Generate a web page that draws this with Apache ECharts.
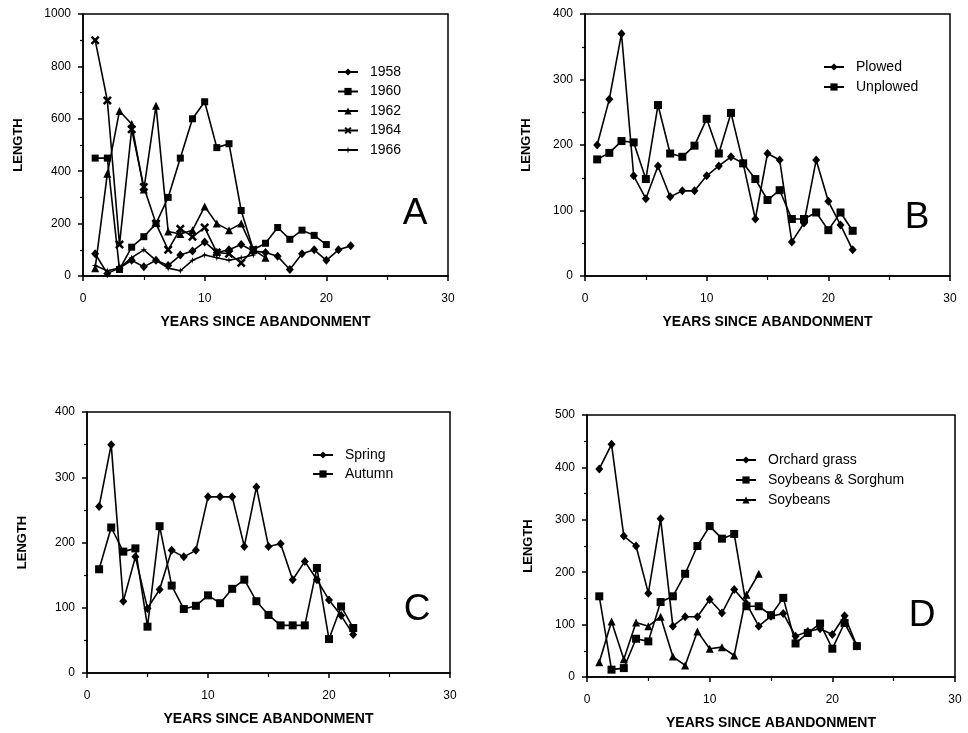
<!DOCTYPE html>
<html>
<head>
<meta charset="utf-8">
<script src="https://cdn.jsdelivr.net/npm/echarts@6/dist/echarts.min.js"></script>
<style>
  html, body { margin: 0; padding: 0; background: #fff; }
  #chart { width: 968px; height: 733px; }
</style>
</head>
<body>
<div id="chart"></div>
<script>
// years since abandonment
var years = [1, 2, 3, 4, 5, 6, 7, 8, 9, 10, 11, 12, 13, 14, 15, 16, 17, 18, 19, 20, 21, 22];

// panel A - year of abandonment
var a1958 = [85, 10, 30, 60, 35, 60, 40, 80, 95, 130, 90, 100, 120, 95, 90, 75, 25, 85, 100, 60, 100, 115];
var a1960 = [450, 450, 25, 110, 150, 200, 300, 450, 600, 665, 490, 505, 250, 100, 125, 185, 140, 175, 155, 120];
var a1962 = [30, 390, 630, 580, 330, 650, 170, 160, 175, 265, 200, 175, 200, 100, 70];
var a1964 = [900, 670, 120, 560, 340, 200, 100, 180, 150, 185, 90, 85, 50, 100];
var a1966 = [40, 20, 30, 70, 100, 60, 30, 20, 60, 80, 70, 60, 70, 80];

// panel B
var bPlowed = [200, 270, 370, 153, 118, 168, 121, 130, 130, 153, 168, 182, 172, 87, 187, 177, 52, 81, 177, 114, 78, 40];
var bUnplowed = [178, 188, 206, 204, 148, 261, 187, 182, 199, 240, 187, 249, 172, 148, 116, 131, 87, 87, 97, 70, 97, 69];

// panel C
var cSpring = [255, 350, 110, 178, 99, 128, 188, 178, 188, 270, 270, 270, 194, 285, 194, 198, 143, 171, 143, 112, 88, 59];
var cAutumn = [159, 223, 186, 191, 71, 225, 134, 98, 103, 119, 107, 129, 143, 110, 89, 73, 73, 73, 161, 52, 102, 69];

// panel D
var dOrchard = [397, 444, 269, 250, 160, 302, 97, 115, 115, 148, 122, 167, 140, 97, 116, 121, 78, 87, 92, 81, 117, 59];
var dSoySorg = [154, 14, 17, 73, 68, 143, 154, 197, 250, 288, 264, 273, 135, 135, 118, 151, 64, 84, 102, 54, 103, 59];
var dSoy = [28, 106, 34, 104, 97, 115, 39, 22, 87, 54, 57, 41, 157, 197];

var xSym = 'path://M0,2L2,0L5,3L8,0L10,2L7,5L10,8L8,10L5,7L2,10L0,8L3,5Z';
var starSym = 'path://M5,0L6,4L10,5L6,6L5,10L4,6L0,5L4,4Z';

var chart = echarts.init(document.getElementById('chart'));

var FONT = 'Liberation Sans';

// 4 panels: A B C D
var grids = [
  { left: 83, top: 14, width: 365, height: 262 },
  { left: 585, top: 14, width: 365, height: 262 },
  { left: 87, top: 412, width: 363, height: 261 },
  { left: 587, top: 415, width: 368, height: 262 }
];
var yMax = [1000, 400, 400, 500];
var yStep = [200, 100, 100, 100];
var yNameGap = [58, 52, 58, 52];

function mk(name, vals, gi, sym, size) {
  var pts = [];
  for (var i = 0; i < vals.length; i++) pts.push([years[i], vals[i]]);
  return {
    name: name, type: 'line', xAxisIndex: gi, yAxisIndex: gi,
    data: pts, symbol: sym, symbolSize: size, showSymbol: true,
    itemStyle: { color: '#000' },
    lineStyle: { color: '#000', width: 1.6 },
    animation: false
  };
}

var xAxes = [], yAxes = [];
grids.forEach(function (g, i) {
  g.show = true;
  g.borderColor = '#000';
  g.borderWidth = 1.5;
  xAxes.push({
    gridIndex: i, type: 'value', min: 0, max: 30, interval: 10,
    name: 'YEARS SINCE ABANDONMENT', nameLocation: 'middle', nameGap: 39,
    nameTextStyle: { fontFamily: FONT, fontWeight: 'bold', fontSize: 14, color: '#000' },
    axisLine: { show: true, lineStyle: { color: '#000', width: 1.5 } },
    axisTick: { show: true, length: 5, lineStyle: { color: '#000', width: 1.5 } },
    minorTick: { show: true, splitNumber: 2, length: 4, lineStyle: { color: '#000', width: 1.2 } },
    axisLabel: { margin: 17, fontFamily: FONT, fontSize: 12, color: '#000' },
    splitLine: { show: false }
  });
  yAxes.push({
    gridIndex: i, type: 'value', min: 0, max: yMax[i], interval: yStep[i],
    name: 'LENGTH', nameLocation: 'middle', nameGap: yNameGap[i], nameRotate: 90,
    nameTextStyle: { fontFamily: FONT, fontWeight: 'bold', fontSize: 13, color: '#000' },
    axisLine: { show: true, lineStyle: { color: '#000', width: 1.5 } },
    axisTick: { show: true, length: 5, lineStyle: { color: '#000', width: 1.5 } },
    minorTick: { show: true, splitNumber: 2, length: 3, lineStyle: { color: '#000', width: 1.2 } },
    axisLabel: {
      margin: 12, fontFamily: FONT, fontSize: 12, color: '#000',
      formatter: function (v) { return String(v); }
    },
    splitLine: { show: false }
  });
});

function lg(names, left, top, gap) {
  return {
    data: names, orient: 'vertical', left: left, top: top,
    itemWidth: 20, itemHeight: 9, itemGap: gap, padding: 0,
    textStyle: { fontFamily: FONT, fontSize: 14, color: '#000', padding: [0, 0, 0, 7] },
    selectedMode: false
  };
}

function letter(t, x, y) {
  return {
    type: 'text', x: x, y: y,
    style: { text: t, fontFamily: FONT, fontSize: 37, fill: '#000', align: 'center', verticalAlign: 'middle' }
  };
}

var option = {
  backgroundColor: '#fff',
  animation: false,
  grid: grids,
  xAxis: xAxes,
  yAxis: yAxes,
  legend: [
    lg(['1958', '1960', '1962', '1964', '1966'], 337, 65, 5.5),
    lg(['Plowed', 'Unplowed'], 823, 60, 6),
    lg(['Spring', 'Autumn'], 312, 448, 5),
    lg(['Orchard grass', 'Soybeans & Sorghum', 'Soybeans'], 735, 453, 6)
  ],
  graphic: [
    letter('A', 415, 214),
    letter('B', 917, 218),
    letter('C', 417, 610),
    letter('D', 922, 616)
  ],
  series: [
    mk('1958', a1958, 0, 'diamond', [8, 9]),
    mk('1960', a1960, 0, 'rect', 7),
    mk('1962', a1962, 0, 'triangle', 8),
    mk('1964', a1964, 0, xSym, 9),
    mk('1966', a1966, 0, starSym, 7),
    mk('Plowed', bPlowed, 1, 'diamond', [8, 9]),
    mk('Unplowed', bUnplowed, 1, 'rect', 8),
    mk('Spring', cSpring, 2, 'diamond', [8, 9]),
    mk('Autumn', cAutumn, 2, 'rect', 8),
    mk('Orchard grass', dOrchard, 3, 'diamond', [8, 9]),
    mk('Soybeans & Sorghum', dSoySorg, 3, 'rect', 8),
    mk('Soybeans', dSoy, 3, 'triangle', 8)
  ]
};

chart.setOption(option);
</script>
</body>
</html>
